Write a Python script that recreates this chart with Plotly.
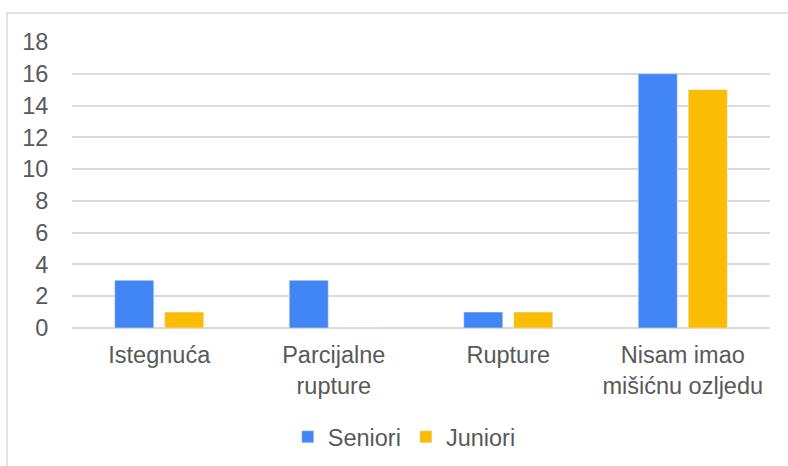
import plotly.graph_objects as go

categories = ["Istegnuća", "Parcijalne<br>rupture", "Rupture", "Nisam imao<br>mišićnu ozljedu"]
seniori = [3, 3, 1, 16]
juniori = [1, 0, 1, 15]
y_ticks = [0, 2, 4, 6, 8, 10, 12, 14, 16, 18]

W, H = 788, 466
L, R, T, B = 72, 18, 42, 138
pw, ph = W - L - R, H - T - B

fig = go.Figure()
fig.add_trace(go.Bar(name="Seniori", x=categories, y=seniori, marker_color="#4285F4"))
fig.add_trace(go.Bar(name="Juniori", x=categories, y=juniori, marker_color="#FBBC04"))

font = dict(family="Liberation Sans, Arial, sans-serif", size=23.5, color="#595959")
fig.update_layout(
    width=W, height=H,
    margin=dict(l=L, r=R, t=T, b=B, pad=0, autoexpand=False),
    paper_bgcolor="white", plot_bgcolor="white",
    font=font,
    barmode="group", bargap=0.427, bargroupgap=0.22,
    showlegend=True,
    legend=dict(orientation="h", xref="container", yref="container",
                x=0.513, xanchor="center", y=1 - 437 / H, yanchor="middle",
                font=font, itemwidth=30, traceorder="normal"),
    xaxis=dict(showgrid=False, ticks="outside", ticklen=6, tickcolor="rgba(0,0,0,0)",
               tickfont=font, showline=False),
    yaxis=dict(range=[0, 18], tickvals=y_ticks, showgrid=True, gridcolor="#d9d9d9", gridwidth=1.5,
               zeroline=True, zerolinecolor="#d9d9d9", zerolinewidth=1.5,
               ticks="outside", ticklen=18, tickcolor="rgba(0,0,0,0)", tickfont=font),
)
fig.add_shape(type="rect", xref="paper", yref="paper",
              x0=(7 - L) / pw, x1=(800 - L) / pw,
              y0=(H - 480 - B) / ph, y1=(H - 13 - B) / ph,
              line=dict(color="#d9d9d9", width=1.5), fillcolor="rgba(0,0,0,0)", layer="below")
fig.write_html("out.html", config={"displayModeBar": False},
               post_script="document.body.style.margin='0';")
